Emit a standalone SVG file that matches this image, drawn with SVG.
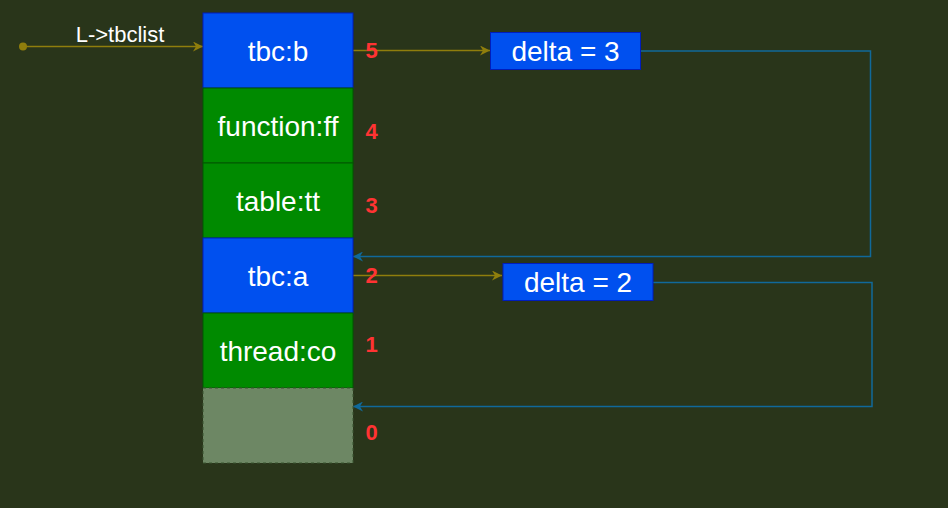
<svg xmlns="http://www.w3.org/2000/svg" width="948" height="508" viewBox="0 0 948 508">
<defs>
<style>
.bg{fill:#29351a}
.blue{fill:#0050ef;stroke:#001dbc;stroke-width:1}
.green{fill:#008a00;stroke:#005700;stroke-width:1}
.gray{fill:#6d8764;stroke:#3a5431;stroke-width:1;stroke-dasharray:3 3}
.t{font-family:"Liberation Sans",Arial,sans-serif;font-size:28px;fill:#ffffff;text-anchor:middle}
.n{font-family:"Liberation Sans",Arial,sans-serif;font-size:22px;font-weight:bold;fill:#ff3333;text-anchor:middle}
.lbl{font-family:"Liberation Sans",Arial,sans-serif;font-size:22px;fill:#ffffff;text-anchor:middle}
.ol{fill:none;stroke:#8f7e0c;stroke-width:1.5}
.bl{fill:none;stroke:#10699a;stroke-width:1.5}
</style>
<marker id="ao" viewBox="0 0 10 10" refX="10" refY="5" markerWidth="10" markerHeight="10" markerUnits="userSpaceOnUse" orient="auto"><path d="M0,0 L10,5 L0,10 L3,5 Z" fill="#8f7e0c"/></marker>
<marker id="ab" viewBox="0 0 10 10" refX="10" refY="5" markerWidth="10" markerHeight="10" markerUnits="userSpaceOnUse" orient="auto"><path d="M0,0 L10,5 L0,10 L3,5 Z" fill="#10699a"/></marker>
</defs>
<rect class="bg" x="0" y="0" width="948" height="508"/>
<g id="connectors">
<circle cx="23" cy="46.5" r="4" fill="#8f7e0c"/>
<path class="ol" d="M23,46.5 L203,46.5" marker-end="url(#ao)"/>
<path class="ol" d="M353,50.5 L490,50.5" marker-end="url(#ao)"/>
<path class="ol" d="M353,275.5 L502,275.5" marker-end="url(#ao)"/>
<path class="bl" d="M641,51 L870.5,51 L870.5,256.5 L353,256.5" marker-end="url(#ab)"/>
<path class="bl" d="M653,282.5 L872,282.5 L872,406.5 L353,406.5" marker-end="url(#ab)"/>
<text class="lbl" x="120" y="42">L-&gt;tbclist</text>
</g>
<g id="tbc-b"><rect class="blue" x="203" y="13" width="150" height="75"/><text class="t" x="278" y="60.5">tbc:b</text></g>
<g id="function-ff"><rect class="green" x="203" y="88" width="150" height="75"/><text class="t" x="278" y="135.5">function:ff</text></g>
<g id="table-tt"><rect class="green" x="203" y="163" width="150" height="75"/><text class="t" x="278" y="210.5">table:tt</text></g>
<g id="tbc-a"><rect class="blue" x="203" y="238" width="150" height="75"/><text class="t" x="278" y="285.5">tbc:a</text></g>
<g id="thread-co"><rect class="green" x="203" y="313" width="150" height="75"/><text class="t" x="278" y="360.5">thread:co</text></g>
<g id="empty"><rect class="gray" x="203" y="388" width="150" height="75"/></g>
<g id="delta3"><rect class="blue" x="490.5" y="32.5" width="150" height="37"/><text class="t" x="565.5" y="61">delta = 3</text></g>
<g id="delta2"><rect class="blue" x="503" y="263.5" width="150" height="37"/><text class="t" x="578" y="292">delta = 2</text></g>
<g id="indices">
<text class="n" x="371.5" y="58">5</text>
<text class="n" x="371.5" y="138.5">4</text>
<text class="n" x="371.5" y="213">3</text>
<text class="n" x="371.5" y="283">2</text>
<text class="n" x="371.5" y="352">1</text>
<text class="n" x="371.5" y="440">0</text>
</g>
</svg>
